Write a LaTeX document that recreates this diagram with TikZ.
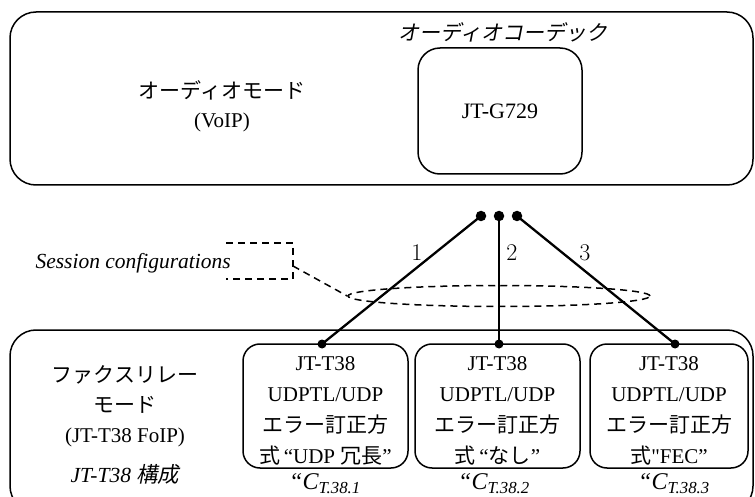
\documentclass[tikz,border=0pt]{standalone}
\usepackage{fontspec}
\usetikzlibrary{shapes.geometric}
\newfontfamily\tnr{Liberation Serif}
\newfontfamily\jp{Noto Sans CJK JP}
\newfontfamily\jpit[FakeSlant=0.2]{Noto Sans CJK JP}

\tikzset{
  frame/.style={draw, line width=1.5pt, rounded corners=26pt, inner sep=0pt},
  codec/.style={draw, line width=1.5pt, rounded corners=22pt, inner sep=0pt,
    minimum width=164pt, minimum height=126pt, font=\tnr\fontsize{22}{22}\selectfont},
  cfgbox/.style={draw, line width=1.5pt, rounded corners=17pt, inner sep=0pt,
    minimum height=124pt},
  cfgtxt/.style={inner sep=0pt, align=center, font=\tnr\fontsize{21}{31}\selectfont},
  port/.style={circle, fill, inner sep=0pt, minimum size=10.5pt},
  tap/.style={circle, fill, inner sep=0pt, minimum size=9pt},
  link/.style={line width=2.3pt},
  dashln/.style={line width=1.5pt, dash pattern=on 7pt off 5pt},
  modetxt/.style={align=center, inner sep=0pt, font=\tnr\fontsize{21}{30}\selectfont},
  ittxt/.style={inner sep=0pt, font=\tnr\itshape\fontsize{21.5}{21.5}\selectfont},
  cflabel/.style={inner sep=0pt, font=\tnr\itshape\fontsize{24}{24}\selectfont},
  num/.style={inner sep=0pt, font=\rmfamily\fontsize{24}{24}\selectfont},
}

\begin{document}
\begin{tikzpicture}[x=1pt,y=-1pt]
\clip (0,0) rectangle (755,497);

% audio mode
\node[frame, minimum width=743pt, minimum height=173pt] (audio) at (381.5,98.5) {};
\node[modetxt, font=\tnr\fontsize{21}{29}\selectfont] (amode) at (222,106)
  {{\jp オーディオモード}\\(VoIP)};
\node[inner sep=0pt, font=\jpit\fontsize{21}{21}\selectfont] (ctitle) at (503,32)
  {オーディオコーデック};
\node[codec] (g729) at (500,111) {JT-G729};

% fax relay mode
\node[frame, minimum width=743pt, minimum height=182pt] (fax) at (381.5,421) {};
\node[modetxt] (fmode) at (125,406)
  {{\jp ファクスリレー}\\{\jp モード}\\(JT-T38 FoIP)};
\node[ittxt] (fcfg) at (125,474) {JT-T38 {\jpit 構成}};

\node[cfgbox, minimum width=165pt] (cfg1) at (325.5,406) {};
\node[cfgbox, minimum width=165pt] (cfg2) at (497.5,406) {};
\node[cfgbox, minimum width=158pt] (cfg3) at (669,406) {};
\node[cfgtxt] (cfg1t) at ([yshift=-5pt]cfg1.center)
  {JT-T38\\UDPTL/UDP\\{\jp エラー訂正方}\\{\jp 式}\,“UDP {\jp 冗長}”};
\node[cfgtxt] (cfg2t) at ([yshift=-5pt]cfg2.center)
  {JT-T38\\UDPTL/UDP\\{\jp エラー訂正方}\\{\jp 式}\,“{\jp なし}”};
\node[cfgtxt] (cfg3t) at ([yshift=-5pt]cfg3.center)
  {JT-T38\\UDPTL/UDP\\{\jp エラー訂正方}\\{\jp 式}"FEC”};

\node[cflabel] (lab1) at (325,484) {“C\textsubscript{T.38.1}};
\node[cflabel] (lab2) at (494,484) {“C\textsubscript{T.38.2}};
\node[cflabel] (lab3) at (674,484) {“C\textsubscript{T.38.3}};

% session configurations
\node[ellipse, draw, dashln, inner sep=0pt, minimum width=302pt, minimum height=21pt]
  (sess) at (499,296) {};
\node[ittxt, anchor=east] (sesstxt) at (231,263) {Session configurations};
\coordinate (bk1) at (226,243);
\coordinate (bk2) at (293,243);
\coordinate (bk3) at (293,279);
\coordinate (bk4) at (226,279);
\coordinate (bkm) at (293,266);
\draw[dashln] (bk1) -- (bk2) -- (bk3) -- (bk4);
\draw[dashln] (bkm) -- (sess.west);

% session links
\node[port] (s1) at (481,216) {};
\node[port] (s2) at (499,216) {};
\node[port] (s3) at (517,216) {};
\node[tap] (c1) at (322,344) {};
\node[tap] (c2) at (499,344) {};
\node[tap] (c3) at (675,344) {};
\draw[link] (s1.center) -- (c1.center);
\draw[link] (s2.center) -- (c2.center);
\draw[link] (s3.center) -- (c3.center);
\node[num] (n1) at (417,253) {1};
\node[num] (n2) at (512,253) {2};
\node[num] (n3) at (585,253) {3};
\end{tikzpicture}
\end{document}
